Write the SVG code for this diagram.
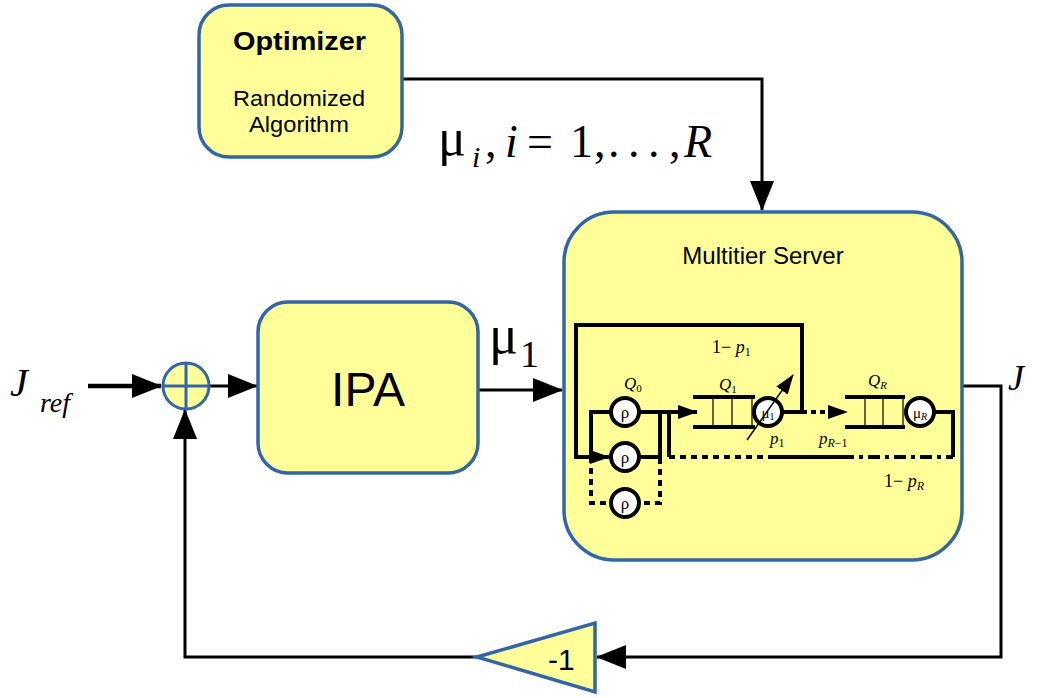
<svg xmlns="http://www.w3.org/2000/svg" width="1037" height="698" viewBox="0 0 1037 698">
<style>
.box{fill:#ffff99;stroke:#3465a4;stroke-width:3.5}
.ln{fill:none;stroke:#000;stroke-width:3}
.in{fill:none;stroke:#000;stroke-width:4}
.thin{fill:none;stroke:#000;stroke-width:1.2}
.dash{stroke-dasharray:6,5}
.srv{fill:#fff;stroke:#000;stroke-width:4}
.sans{font-family:"Liberation Sans",Arial,sans-serif}
.math{font-family:"Liberation Serif","DejaVu Serif",serif}
.it{font-style:italic}
</style>
<defs>
<marker id="big" viewBox="0 0 30 24" markerWidth="30" markerHeight="24" refX="29" refY="12" orient="auto" markerUnits="userSpaceOnUse"><path d="M0,0 L30,12 L0,24 Z" fill="#000"/></marker>
<marker id="sm" viewBox="0 0 20 14" markerWidth="20" markerHeight="14" refX="19" refY="7" orient="auto" markerUnits="userSpaceOnUse"><path d="M0,0 L20,7 L0,14 Z" fill="#000"/></marker>
</defs>
<rect width="1037" height="698" fill="#fff"/>

<g id="connectors">
<path class="ln" d="M402,79 H762 V210" marker-end="url(#big)"/>
<path class="ln" style="stroke-width:4.5" d="M88,386 H161" marker-end="url(#big)"/>
<path class="ln" d="M209,386 H257" marker-end="url(#big)"/>
<path class="ln" d="M478,390 H562" marker-end="url(#big)"/>
<path class="ln" d="M962,386 H1001 V657 H597" marker-end="url(#big)"/>
<path class="ln" d="M477,657 H185 V410" marker-end="url(#big)"/>
</g>

<g id="optimizer">
<rect class="box" x="199" y="5" width="203" height="152" rx="30"/>
<text class="sans" x="233" y="50" font-size="26" font-weight="bold" textLength="133" lengthAdjust="spacingAndGlyphs">Optimizer</text>
<text class="sans" x="233" y="106" font-size="22" textLength="132" lengthAdjust="spacingAndGlyphs">Randomized</text>
<text class="sans" x="249" y="132" font-size="22" textLength="100" lengthAdjust="spacingAndGlyphs">Algorithm</text>
</g>

<g id="mu-label">
<text class="math" y="157" font-size="46"><tspan x="438" y="155" font-size="52">μ</tspan><tspan class="it" font-size="30" x="472" y="167">i</tspan><tspan x="485" y="157">,</tspan><tspan class="it" x="505">i</tspan><tspan x="527">=</tspan><tspan x="570">1</tspan><tspan x="594">,</tspan><tspan x="608">.</tspan><tspan x="628">.</tspan><tspan x="648">.</tspan><tspan x="669">,</tspan><tspan class="it" x="684">R</tspan></text>
</g>

<g id="sum">
<circle cx="186" cy="386" r="23" fill="#ffff99" stroke="#3465a4" stroke-width="3"/>
<path d="M163,386 H209 M186,363 V409" stroke="#3465a4" stroke-width="3"/>
</g>

<g id="jref">
<text class="math it" x="10" y="396" font-size="40">J</text>
<text class="math it" x="40" y="412" font-size="28">ref</text>
</g>

<g id="ipa">
<rect class="box" x="258" y="302" width="220" height="171" rx="30"/>
<text class="sans" x="368" y="406" font-size="48" text-anchor="middle">IPA</text>
</g>

<g id="mu1-label">
<text class="math" x="489" y="353" font-size="54">μ<tspan font-size="38" x="520" y="367">1</tspan></text>
</g>

<g id="server">
<rect class="box" x="564" y="212" width="398" height="348" rx="50"/>
<text class="sans" x="763" y="264" font-size="24" text-anchor="middle">Multitier Server</text>
<path class="in" d="M802,412 V325 H576 V457 H609" marker-end="url(#sm)"/>
<path class="in" d="M611,412 H591 V457"/>
<path class="in dash" d="M591,457 V503 H660 V457"/>
<path class="in" d="M660,412 V457 H639"/>
<path class="in" d="M639,412 H697" marker-end="url(#sm)"/>
<path class="in" d="M669,413 V457"/>
<path class="in" d="M669,457 H768" stroke-dasharray="6,5"/>
<path class="in" d="M768,457 H842"/>
<path class="in" d="M842,457 H953" stroke-dasharray="12,5,4,5"/>
<path class="in" d="M953,457 V412 H934"/>
<circle class="srv" cx="625" cy="412" r="14"/>
<circle class="srv" cx="625" cy="457" r="14"/>
<circle class="srv" cx="625" cy="503" r="14"/>
<text class="math" x="625" y="418" font-size="17" text-anchor="middle">ρ</text>
<text class="math" x="625" y="463" font-size="17" text-anchor="middle">ρ</text>
<text class="math" x="625" y="509" font-size="17" text-anchor="middle">ρ</text>
<path class="in" d="M693,397 H755 M693,427 H755"/>
<path class="thin" d="M713,397 V427 M732,397 V427 M752,397 V427"/>
<circle class="srv" cx="768" cy="412" r="14"/>
<text class="math" x="768" y="418" font-size="15" text-anchor="middle">μ<tspan font-size="10" dy="2">1</tspan></text>
<path fill="none" stroke="#000" stroke-width="1.5" d="M747,440 L793,375" marker-end="url(#sm)"/>
<path class="in" d="M782,412 H802"/>
<path class="in" d="M802,412 H847" stroke-dasharray="5,4" marker-end="url(#sm)"/>
<path class="in" d="M845,397 H905 M845,427 H905"/>
<path class="thin" d="M865,397 V427 M883,397 V427 M903,397 V427"/>
<circle class="srv" cx="920" cy="412" r="14"/>
<text class="math" x="920" y="418" font-size="15" text-anchor="middle">μ<tspan class="it" font-size="10" dy="2">R</tspan></text>
<text class="math" x="712" y="353" font-size="18">1− <tspan class="it">p</tspan><tspan font-size="12" dy="3">1</tspan></text>
<text class="math it" x="624" y="389" font-size="17">Q<tspan font-size="11" dy="3" font-style="normal">0</tspan></text>
<text class="math it" x="719" y="390" font-size="17">Q<tspan font-size="11" dy="3" font-style="normal">1</tspan></text>
<text class="math it" x="868" y="386" font-size="17">Q<tspan font-size="11" dy="3">R</tspan></text>
<text class="math it" x="770" y="444" font-size="17">p<tspan font-size="12" dy="3" font-style="normal">1</tspan></text>
<text class="math it" x="819" y="444" font-size="17">p<tspan font-size="12" dy="3">R<tspan font-style="normal">−1</tspan></tspan></text>
<text class="math" x="884" y="487" font-size="18">1− <tspan class="it">p</tspan><tspan class="it" font-size="12" dy="3">R</tspan></text>
</g>

<g id="j-label">
<text class="math it" x="1008" y="390" font-size="36">J</text>
</g>

<g id="gain">
<polygon points="477,657 595,623 595,692" fill="#ffff99" stroke="#3465a4" stroke-width="3.5"/>
<text class="sans" x="548" y="670" font-size="30">-1</text>
</g>
</svg>
